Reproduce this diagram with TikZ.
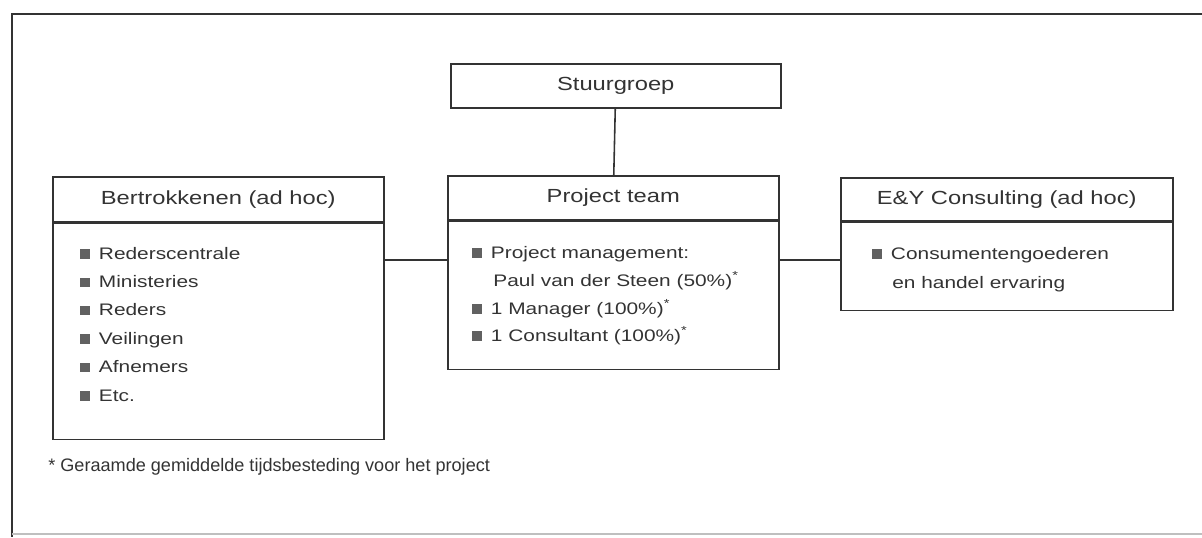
\documentclass[tikz,border=0pt]{standalone}
\usepackage{fontspec}
\setmainfont[FakeStretch=1.25]{Liberation Sans}
\newfontfamily\notefont{Liberation Sans}
\usetikzlibrary{positioning}

\definecolor{inkgray}{gray}{0.2}
\definecolor{bulgray}{gray}{0.38}
\newcommand{\sq}{\textcolor{bulgray}{\rule[0.2pt]{5.6pt}{5.4pt}}\hspace{5pt}}
\newcommand{\fnstar}{\textsuperscript{*}}

\begin{document}
\begin{tikzpicture}[
    x=0.02cm, y=-0.02cm,
    hdr/.style={draw=inkgray, line width=0.9pt, minimum height=0.88cm, inner sep=0pt, anchor=north west, font=\fontsize{10.8}{13}\selectfont, text=inkgray},
    body/.style={draw=inkgray, line width=0.9pt, inner sep=0pt, anchor=north west},
    item/.style={anchor=base west, inner sep=0pt, font=\fontsize{9.5}{12}\selectfont, text=inkgray}
]

    \useasboundingbox (0,0) rectangle (1202,537);

    % --- Frame ---
    \draw[inkgray, line width=1pt] (1202,14) -| (12,537);
    \draw[black!25, line width=0.8pt] (12,534) -- (1202,534);

    % --- Boxes ---
    \node[hdr, minimum width=6.6cm] (stuur) at (450,63) {Stuurgroep};

    \node[hdr, minimum width=6.62cm, minimum height=0.9cm] (bhead) at (52,176) {Bertrokkenen (ad hoc)};
    \node[body, minimum width=6.62cm, minimum height=4.32cm] (bbody) at (bhead.south west) {};

    \node[hdr, minimum width=6.62cm] (phead) at (447,175) {Project team};
    \node[body, minimum width=6.62cm, minimum height=2.96cm] (pbody) at (phead.south west) {};

    \node[hdr, minimum width=6.64cm, minimum height=0.86cm] (ehead) at (840,177) {E\&Y Consulting (ad hoc)};
    \node[body, minimum width=6.64cm, minimum height=1.76cm] (ebody) at (ehead.south west) {};

    % --- Connectors ---
    \coordinate (mid) at (613,260);
    \draw[inkgray, line width=0.9pt] (stuur) -- (phead);
    \draw[inkgray, line width=0.9pt] (bbody.east |- mid) -- (pbody.west |- mid);
    \draw[inkgray, line width=0.9pt] (pbody.east |- mid) -- (ebody.west |- mid);

    % --- Lists ---
    \foreach \txt [count=\i] in {Rederscentrale, Ministeries, Reders, Veilingen, Afnemers, Etc.}
        \node[item] (b\i) at (80, {259+28.4*(\i-1)}) {\sq\txt};

    \node[item] (p1) at (472,258) {\sq Project management:};
    \node[item] (p2) at (493,286) {Paul van der Steen (50\%)\fnstar};
    \node[item] (p3) at (472,314) {\sq 1 Manager (100\%)\fnstar};
    \node[item] (p4) at (472,341) {\sq 1 Consultant (100\%)\fnstar};

    \node[item] (e1) at (872,259) {\sq Consumentengoederen};
    \node[item] (e2) at (892,288) {en handel ervaring};

    % --- Footnote ---
    \node[item, font=\notefont\fontsize{10.3}{12}\selectfont] (note) at (48,471) {* Geraamde gemiddelde tijdsbesteding voor het project};

\end{tikzpicture}
\end{document}
